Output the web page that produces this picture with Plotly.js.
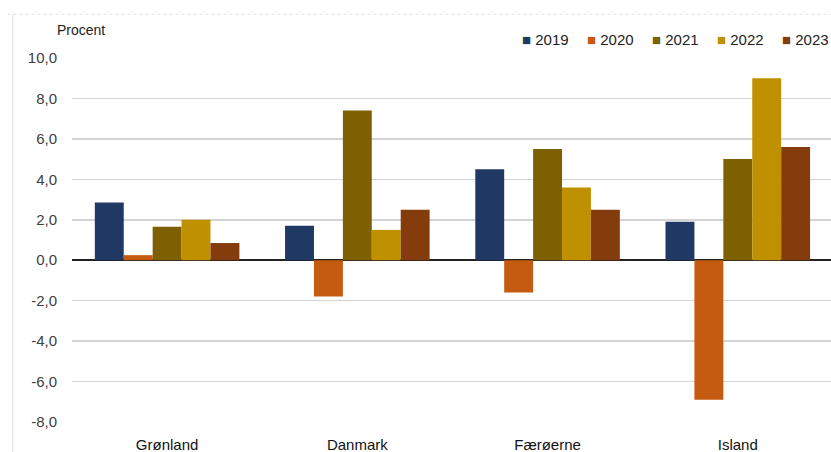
<!DOCTYPE html>
<html>
<head>
<meta charset="utf-8">
<script src="https://cdn.plot.ly/plotly-3.0.1.min.js"></script>
<style>html,body{margin:0;padding:0;background:#fff;}#chart{width:831px;height:452px;}</style>
</head>
<body>
<div id="chart"></div>
<script>
const categories = ["Grønland", "Danmark", "Færøerne", "Island"];
const years = ["2019", "2020", "2021", "2022", "2023"];
const colors = ["#1F3864", "#C55A11", "#7F6000", "#BF9000", "#843C0C"];
const v2019 = [2.85, 1.7, 4.5, 1.9];
const v2020 = [0.25, -1.8, -1.6, -6.9];
const v2021 = [1.65, 7.4, 5.5, 5.0];
const v2022 = [2.0, 1.5, 3.6, 9.0];
const v2023 = [0.85, 2.5, 2.5, 5.6];
const yTickVals = [-8, -6, -4, -2, 0, 2, 4, 6, 8, 10];
const yTickText = ["-8,0", "-6,0", "-4,0", "-2,0", "0,0", "2,0", "4,0", "6,0", "8,0", "10,0"];
const series = [v2019, v2020, v2021, v2022, v2023];

const FONT = "Liberation Sans, Arial, sans-serif";
const traces = series.map((vals, i) => ({
  type: "bar",
  name: years[i],
  x: categories,
  y: vals,
  marker: {color: colors[i]},
  showlegend: false,
  hoverinfo: "skip"
}));

// legend as annotations, built from the year/colour arrays
const legendAnn = years.map((yr, i) => ({
  xref: "paper", yref: "paper",
  x: 1 - (years.length - 1 - i) * 0.0855, xanchor: "right",
  y: 1.052, yanchor: "middle",
  showarrow: false,
  text: '<span style="color:' + colors[i] + '; font-size:15px">■</span> ' + yr,
  font: {family: FONT, size: 15, color: "#222"}
}));

const layout = {
  width: 831, height: 452,
  margin: {l: 72, r: 0, t: 58, b: 30},
  paper_bgcolor: "#fff", plot_bgcolor: "#fff",
  barmode: "group",
  bargap: 0.24,
  bargroupgap: 0,
  font: {family: FONT, size: 15, color: "#333"},
  xaxis: {
    type: "category",
    range: [-0.5, 3.49],
    showgrid: false,
    zeroline: false,
    showline: false,
    ticks: "",
    tickfont: {family: FONT, size: 15, color: "#111"},
    ticklabelstandoff: 12,
    fixedrange: true
  },
  yaxis: {
    range: [-8, 10],
    tickvals: yTickVals,
    ticktext: yTickText,
    showgrid: true,
    gridcolor: "#d4d4d4",
    gridwidth: 1.5,
    zeroline: true,
    zerolinecolor: "#222",
    zerolinewidth: 1.5,
    showline: false,
    ticks: "",
    tickfont: {family: FONT, size: 15, color: "#404040"},
    ticklabelstandoff: 14,
    fixedrange: true
  },
  annotations: [
    {
      xref: "paper", yref: "paper",
      x: -0.023, xanchor: "left",
      y: 1.077, yanchor: "middle",
      showarrow: false,
      text: "Procent",
      font: {family: FONT, size: 14, color: "#222"}
    }
  ].concat(legendAnn),
  shapes: [
    {type: "line", xref: "paper", yref: "paper", x0: -0.078, x1: -0.078, y0: -0.09, y1: 1.12,
     line: {color: "#e2e2e2", width: 1}},
    {type: "line", xref: "paper", yref: "paper", x0: -0.085, x1: 1.0, y0: 1.12, y1: 1.12,
     line: {color: "#e2e2e2", width: 1, dash: "dot"}}
  ]
};

Plotly.newPlot("chart", traces, layout, {displayModeBar: false, staticPlot: true});
</script>
</body>
</html>
